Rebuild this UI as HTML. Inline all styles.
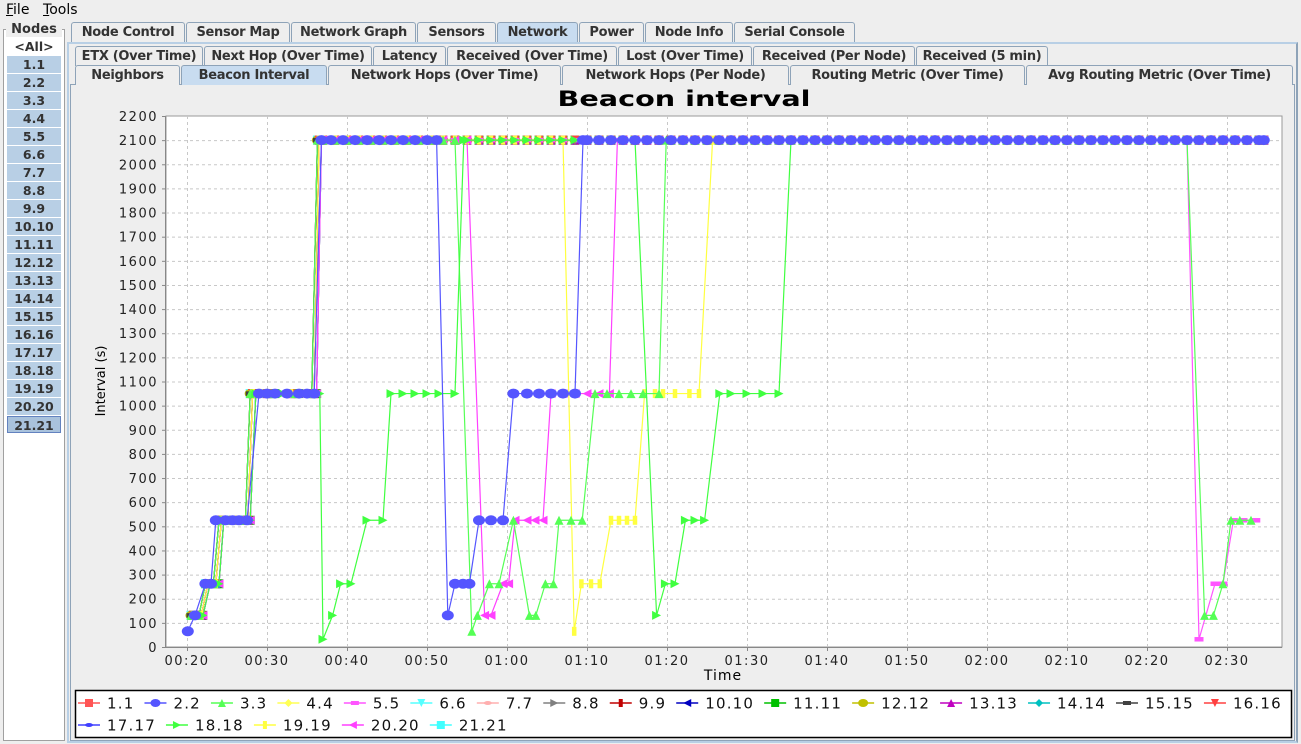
<!DOCTYPE html>
<html><head><meta charset="utf-8">
<style>
*{box-sizing:border-box}
body{margin:0;width:1301px;height:744px;background:#eeeeee;font-family:"DejaVu Sans","Liberation Sans",sans-serif;position:relative;overflow:hidden}
.abs{position:absolute}
.menu{font-size:14px;top:2px}
.tab{position:absolute;height:20px;border:1px solid #8ea3b8;border-bottom:none;background:#eeeeee;font-size:13px;letter-spacing:-0.3px;font-weight:bold;color:#333;text-align:center;line-height:19px;border-radius:3px 3px 0 0;white-space:nowrap;overflow:hidden}
.tab.sel{background:#c8dcf0}
.node{position:absolute;left:7px;width:54px;height:17px;background:#b8cfe5;font-size:12.5px;font-weight:bold;color:#333;text-align:center;line-height:17px}
</style></head><body>
<div class="abs menu" style="left:6px"><u>F</u>ile</div>
<div class="abs menu" style="left:43px"><u>T</u>ools</div>

<div class="abs" style="left:3px;top:29px;width:62px;height:712px;border:1px solid #a0a0a0;background:#fff"></div>
<div class="abs" style="left:6px;top:22px;width:56px;font-size:13px;font-weight:bold;background:#eeeeee;text-align:center;color:#333">Nodes</div>
<div id="nodes"></div>

<div id="tabs"></div>
<div class="abs" style="left:67px;top:42px;width:1231px;height:701px;border:2px solid #b8cfe5;border-right-color:#8ea3b8"></div>
<div class="abs" style="left:70px;top:84px;width:1225px;height:657px;border:1px solid #8ea3b8;background:#eeeeee"></div>

<svg id="chart" class="abs" style="left:0;top:0" width="1301" height="744" xmlns="http://www.w3.org/2000/svg"></svg>

<script>
// ---------- UI ----------
const nodeNames=["<All>","1.1","2.2","3.3","4.4","5.5","6.6","7.7","8.8","9.9","10.10","11.11","12.12","13.13","14.14","15.15","16.16","17.17","18.18","19.19","20.20","21.21"];
const nodesDiv=document.getElementById('nodes');
nodeNames.forEach((n,i)=>{
  const d=document.createElement('div');
  d.className='node';
  d.style.top=(38+i*18)+'px';
  if(i===0){d.style.background='#fff';}
  if(i===21){d.style.background='#a9c2dc';d.style.border='1px solid #6382bf';}
  d.textContent=n;
  
  
  nodesDiv.appendChild(d);
});
const tabDefs=[
 ["Node Control",71,185,22,false],["Sensor Map",186,290,22,false],["Network Graph",291,416,22,false],["Sensors",417,496,22,false],["Network",497,578,22,true],["Power",579,644,22,false],["Node Info",645,733,22,false],["Serial Console",734,855,22,false],
 ["ETX (Over Time)",75,203,46,false],["Next Hop (Over Time)",204,372,46,false],["Latency",373,446,46,false],["Received (Over Time)",447,617,46,false],["Lost (Over Time)",618,752,46,false],["Received (Per Node)",753,915,46,false],["Received (5 min)",916,1048,46,false],
 ["Neighbors",75,180,65,false],["Beacon Interval",181,327,65,true],["Network Hops (Over Time)",328,561,65,false],["Network Hops (Per Node)",562,789,65,false],["Routing Metric (Over Time)",790,1025,65,false],["Avg Routing Metric (Over Time)",1026,1293,65,false]];
const tabsDiv=document.getElementById('tabs');
tabDefs.forEach(t=>{
  const d=document.createElement('div');
  d.className='tab'+(t[4]?' sel':'');
  d.style.left=t[1]+'px';d.style.width=(t[2]-t[1])+'px';d.style.top=t[3]+'px';
  d.style.zIndex=2;
  d.textContent=t[0];
  
  
  tabsDiv.appendChild(d);
});

// ---------- CHART DATA ----------
const yTicks=[0,100,200,300,400,500,600,700,800,900,1000,1100,1200,1300,1400,1500,1600,1700,1800,1900,2000,2100,2200];
const xTickMinutes=[20,30,40,50,60,70,80,90,100,110,120,130,140,150];
const xTickLabels=["00:20","00:30","00:40","00:50","01:00","01:10","01:20","01:30","01:40","01:50","02:00","02:10","02:20","02:30"];
const seriesNames=["1.1","2.2","3.3","4.4","5.5","6.6","7.7","8.8","9.9","10.10","11.11","12.12","13.13","14.14","15.15","16.16","17.17","18.18","19.19","20.20","21.21"];
const seriesColors=["#ff5555","#5555ff","#55ff55","#ffff55","#ff55ff","#55ffff","#ffafaf","#808080","#c00000","#0000c0","#00c000","#c0c000","#c000c0","#00c0c0","#404040","#ff4040","#4040ff","#40ff40","#ffff40","#ff40ff","#40ffff"];
const seriesShapes=["square","circle","up","diamond","hrect","down","hellipse","right","vrect","left","square","circle","up","diamond","hrect","down","hellipse","right","vrect","left","square"];
const topTimes=[37,38.5,40,41.5,43,44.5,46,47.5,49,50.5,52,53.5,55,56.5,58,59.5,61,62.5,64,65.5,67,68.5,70,71.5,73,74.5,76,77.5,79,80.5,82,83.5,85,86.5,88,89.5,91,92.5,94,95.5,97,98.5,100,101.5,103,104.5,106,107.5,109,110.5,112,113.5,115,116.5,118,119.5,121,122.5,124,125.5,127,128.5,130,131.5,133,134.5,136,137.5,139,140.5,142,143.5,145,146.5,148,149.5,151,152.5,154,154.6];
const rampA=[[20.8,131],[21.8,131],[22.6,262],[23.6,262],[24.3,525],[26,525],[27.6,525],[28.2,1050],[30,1050],[33,1050],[35.9,1050],[36.5,2100]];
const rampB=[[21,131],[22,131],[22.9,262],[24,262],[24.6,525],[26.5,525],[27.9,525],[28.6,1050],[31,1050],[34,1050],[36.2,1050],[36.8,2100]];
const rampC=[[20.5,131],[21.5,131],[22.3,262],[23.3,262],[24,525],[25.5,525],[27.3,525],[27.9,1050],[30.5,1050],[33.5,1050],[35.6,1050],[36.3,2100]];
const s2=[[20.1,65],[21,131],[22.3,262],[23,262],[23.6,525],[24.8,525],[25.7,525],[26.5,525],[27.5,525],[29,1050],[30,1050],[31,1050],[32.5,1050],[34,1050],[35,1050],[35.9,1050],[36.8,2100],[38,2100],[39.5,2100],[41,2100],[42.5,2100],[44,2100],[45.5,2100],[47,2100],[48.5,2100],[50,2100],[51.2,2100],[52.6,131],[53.5,262],[54.5,262],[55.3,262],[56.5,525],[58,525],[59.5,525],[60.8,1050],[62.5,1050],[64,1050],[65.5,1050],[67,1050],[68.5,1050],[69.5,2100]];
const s3=[[55.6,65],[56.3,131],[57.8,262],[59,262],[60.8,525],[62.8,131],[63.6,131],[64.8,262],[65.8,262],[66.5,525],[68,525],[69.4,525],[71,1050],[72.5,1050],[74,1050],[75.5,1050],[77,1050],[79,1050],[79.9,2100]];
const s3tail=[[147.2,131],[148.3,131],[149.5,262],[150.5,525],[151.6,525],[153,525]];
const s5tail=[[146.5,32],[148.5,262],[149.5,262],[150.8,525],[152,525],[153.6,525]];
const s18a=[[30,1050],[32,1050],[34,1050],[35.5,1050],[36.6,1050],[37,32],[38.2,131],[39.2,262],[40.5,262],[42.5,525],[44.5,525],[45.5,1050],[47,1050],[48.5,1050],[50,1050],[51.5,1050],[53.5,1050],[54.6,2100]];
const s18b=[[78.7,131],[79.8,262],[81,262],[82.3,525],[83.5,525],[84.7,525],[86.6,1050],[88,1050],[90,1050],[92,1050],[94,1050],[95.5,2100]];
const s19=[[68.4,65],[69.3,262],[70.5,262],[71.6,262],[73,525],[74,525],[75,525],[76,525],[77.2,1050],[78.5,1050],[79.5,1050],[81,1050],[82.8,1050],[84,1050],[85.7,2100]];
const s20=[[57.2,131],[58,131],[59.5,262],[60.2,262],[61,525],[62.5,525],[63.5,525],[64.5,525],[65.5,1050],[67,1050],[68.5,1050],[70,1050],[71.5,1050],[72.8,1050],[73.8,2100]];

// ---------- SCALES ----------
const PL=166,PR=1282,PT=116,PB=647;
const Y=v=>PB-v*(PB-PT)/2200;
const X=t=>187+(t-20)*8;
const svg=document.getElementById('chart');
const NS='http://www.w3.org/2000/svg';
function el(tag,attrs,parent){const e=document.createElementNS(NS,tag);for(const k in attrs)e.setAttribute(k,attrs[k]);(parent||svg).appendChild(e);return e;}
const topBetween=(a,b)=>topTimes.filter(t=>t>a&&t<b).map(t=>[t,2100]);

function build(i){
  const ramps=[rampA,rampB,rampC];
  const r=ramps[i%3];
  const start=r[r.length-1][0];
  switch(i){
    case 1: return s2.concat(topBetween(69.5,155));
    case 2: return r.concat(topBetween(start,54.5),s3,topBetween(79.9,146.3),s3tail);
    case 4: return r.concat(topBetween(start,146.2),s5tail);
    case 17: return rampB.slice(0,8).concat(s18a,topBetween(54.6,77.3),s18b,topBetween(95.5,155));
    case 18: return r.concat(topBetween(start,67.6),s19,topBetween(85.7,155));
    case 19: return r.concat(topBetween(start,56.3),s20,topBetween(73.8,155));
    default: return r.concat(topBetween(start,155));
  }
}

// ---------- FRAME ----------
const title=el('text',{x:684,y:106,'text-anchor':'middle','font-size':21,'font-weight':'bold','font-family':'DejaVu Sans, sans-serif',textLength:253,lengthAdjust:'spacingAndGlyphs'});
title.textContent='Beacon interval';


const plotBg=el('rect',{x:PL,y:PT,width:PR-PL,height:PB-PT,fill:'#fff',stroke:'#999'});


const grid=el('g',{stroke:'#c8c8c8','stroke-dasharray':'3,3','stroke-width':1});


yTicks.forEach(v=>{
  if(v>0&&v<2200) el('line',{x1:PL,x2:PR,y1:Y(v)+.5,y2:Y(v)+.5},grid);
  el('line',{x1:PL-4,x2:PL,y1:Y(v)+.5,y2:Y(v)+.5,stroke:'#888'});
  const lb=el('text',{x:PL-8,y:Y(v)+5,'text-anchor':'end','font-size':13,'letter-spacing':1.5,'font-family':'DejaVu Sans, sans-serif',fill:'#222'});
  lb.textContent=v;
  
  
});
xTickMinutes.forEach((m,i)=>{
  el('line',{x1:X(m)+.5,x2:X(m)+.5,y1:PT,y2:PB},grid);
  el('line',{x1:X(m)+.5,x2:X(m)+.5,y1:PB,y2:PB+4,stroke:'#888'});
  const lb=el('text',{x:X(m),y:PB+18,'text-anchor':'middle','font-size':13,'letter-spacing':1.5,'font-family':'DejaVu Sans, sans-serif',fill:'#222'});
  lb.textContent=xTickLabels[i];
  
  
});
el('line',{x1:PL-0.5,x2:PL-0.5,y1:PT,y2:PB,stroke:'#888'});
el('line',{x1:PL,x2:PR,y1:PB+.5,y2:PB+.5,stroke:'#888'});
const xt=el('text',{x:723,y:680,'text-anchor':'middle','font-size':14,'letter-spacing':1,'font-family':'DejaVu Sans, sans-serif'});
xt.textContent='Time';


const yt=el('text',{x:0,y:0,transform:'translate(105,381) rotate(-90)','text-anchor':'middle','font-size':13,'font-family':'DejaVu Sans, sans-serif'});
yt.textContent='Interval (s)';



// ---------- MARKERS ----------
function marker(shape,cx,cy,s,color,parent){
  const a={fill:color};
  let e;
  switch(shape){
    case 'square': e=el('rect',Object.assign({x:cx-s,y:cy-s,width:2*s,height:2*s},a),parent);break;
    case 'circle': e=el('ellipse',Object.assign({cx:cx,cy:cy,rx:s+1,ry:s},a),parent);break;
    case 'up': e=el('polygon',Object.assign({points:`${cx},${cy-s} ${cx+s},${cy+s} ${cx-s},${cy+s}`},a),parent);break;
    case 'down': e=el('polygon',Object.assign({points:`${cx-s},${cy-s} ${cx+s},${cy-s} ${cx},${cy+s}`},a),parent);break;
    case 'diamond': e=el('polygon',Object.assign({points:`${cx},${cy-s} ${cx+s},${cy} ${cx},${cy+s} ${cx-s},${cy}`},a),parent);break;
    case 'hrect': e=el('rect',Object.assign({x:cx-s,y:cy-s/2,width:2*s,height:s},a),parent);break;
    case 'vrect': e=el('rect',Object.assign({x:cx-s/2,y:cy-s,width:s,height:2*s},a),parent);break;
    case 'hellipse': e=el('ellipse',Object.assign({cx:cx,cy:cy,rx:s,ry:s/2},a),parent);break;
    case 'right': e=el('polygon',Object.assign({points:`${cx-s},${cy-s} ${cx+s},${cy} ${cx-s},${cy+s}`},a),parent);break;
    case 'left': e=el('polygon',Object.assign({points:`${cx+s},${cy-s} ${cx-s},${cy} ${cx+s},${cy+s}`},a),parent);break;
  }
  return e;
}

// ---------- SERIES ----------
const order=[20,0,3,5,6,7,8,9,10,11,12,13,14,15,16,18,4,19,2,17,1];
order.forEach(i=>{
  const pts=build(i);
  const g=el('g',{});
  
  
  el('polyline',{points:pts.map(p=>X(p[0])+','+Y(p[1])).join(' '),fill:'none',stroke:seriesColors[i],'stroke-width':1.2},g);
  const sz=(i===1)?5:4.5;
  pts.forEach(p=>{
    const m=marker(seriesShapes[i],X(p[0]),Y(p[1]),sz,seriesColors[i],g);
    
    
  });
});

// ---------- LEGEND ----------
const lg=el('g',{});


el('rect',{x:75.5,y:690.5,width:1216,height:47,fill:'#fff',stroke:'#000','stroke-width':1.5},lg);
let lx=78,ly=703;
seriesNames.forEach((n,i)=>{
  if(i===16){lx=78;ly=725;}
  const item=el('g',{},lg);
  
  
  el('line',{x1:lx,x2:lx+22,y1:ly,y2:ly,stroke:seriesColors[i],'stroke-width':1.5},item);
  marker(seriesShapes[i],lx+11,ly,4,seriesColors[i],item);
  const t=el('text',{x:lx+29,y:ly+5.5,'font-size':15,'letter-spacing':1.2,'font-family':'DejaVu Sans, sans-serif',fill:'#111'},item);
  t.textContent=n;
  const w=t.getComputedTextLength?t.getComputedTextLength():n.length*9;
  lx=lx+29+w+10;
});
</script>
</body></html>
